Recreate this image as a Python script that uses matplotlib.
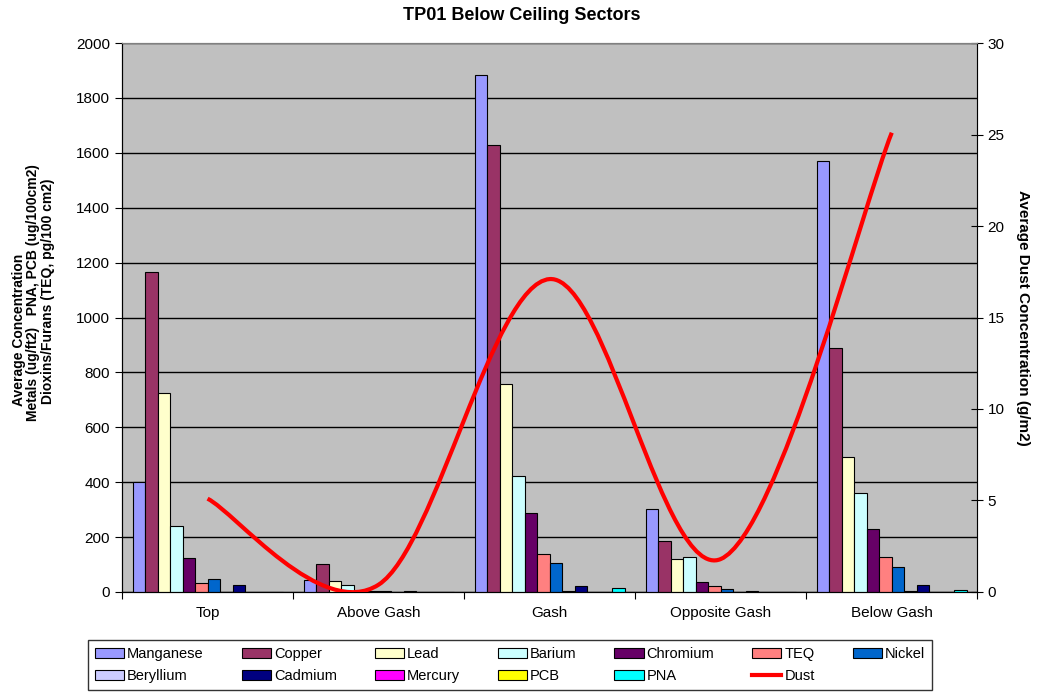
import matplotlib.pyplot as plt
import numpy as np
from matplotlib.path import Path
from matplotlib.patches import PathPatch
from matplotlib.lines import Line2D

plt.rcParams['font.family'] = ['Liberation Sans', 'DejaVu Sans']

# Data
sectors = ['Top', 'Above Gash', 'Gash', 'Opposite Gash', 'Below Gash']
manganese = [402, 45, 1885, 301, 1570]
copper = [1166, 101, 1630, 185, 890]
lead = [724, 40, 759, 121, 490]
barium = [242, 24, 424, 126, 359]
chromium = [124, 5, 287, 38, 228]
teq = [34, 2, 138, 23, 126]
nickel = [47, 2, 105, 12, 92]
beryllium = [0, 0, 3, 0, 4]
cadmium = [25, 2, 23, 5, 24]
mercury = [0, 0, 0, 0, 0]
pcb = [0, 0, 0, 0, 0]
pna = [0, 0, 16, 0, 7]
dust = [5.1, 0.4, 17.1, 1.8, 25.1]

series = [
    ('Manganese', manganese, '#9999FF'),
    ('Copper', copper, '#993366'),
    ('Lead', lead, '#FFFFCC'),
    ('Barium', barium, '#CCFFFF'),
    ('Chromium', chromium, '#660066'),
    ('TEQ', teq, '#FF8080'),
    ('Nickel', nickel, '#0066CC'),
    ('Beryllium', beryllium, '#CCCCFF'),
    ('Cadmium', cadmium, '#000080'),
    ('Mercury', mercury, '#FF00FF'),
    ('PCB', pcb, '#FFFF00'),
    ('PNA', pna, '#00FFFF'),
]

fig = plt.figure(figsize=(10.43, 6.94), dpi=100)
ax = fig.add_axes([0.117, 0.147, 0.820, 0.791])
ax.set_facecolor('#C0C0C0')

x = np.arange(len(sectors))
w = 0.0731
handles = {}
for k, (name, vals, col) in enumerate(series):
    off = (k - 5.5) * w
    b = ax.bar(x + off, vals, width=w, color=col, edgecolor='black',
               linewidth=0.8, zorder=3)
    handles[name] = b

ax.set_xlim(-0.5, 4.5)
ax.set_ylim(0, 2000)
ax.set_yticks(np.arange(0, 2001, 200))
ax.yaxis.grid(True, color='black', linewidth=1, zorder=1)
ax.set_axisbelow(True)
ax.set_xticks(np.arange(-0.5, 4.6, 1))
ax.set_xticklabels([])
ax.set_xticks(x, minor=True)
ax.set_xticklabels(sectors, minor=True, fontsize=11)
ax.tick_params(axis='x', which='major', direction='out', length=5, color='black')
ax.tick_params(axis='x', which='minor', length=0, pad=10)
ax.tick_params(axis='y', direction='out', length=5, labelsize=11)
for s in ['top', 'right']:
    ax.spines[s].set_color('#808080')
for s in ['left', 'bottom']:
    ax.spines[s].set_color('black')

# dust on secondary axis, smoothed like Excel
ax2 = ax.twinx()
ax2.set_ylim(0, 30)
ax2.set_yticks(np.arange(0, 31, 5))
ax2.tick_params(axis='y', direction='inout', length=8, labelsize=11)
ax2.spines['right'].set_color('black')
ax2.spines['top'].set_color('#808080')
ax2.set_zorder(ax.get_zorder() + 1)
ax2.patch.set_visible(False)

pts = np.column_stack([x, dust]).astype(float)
verts = [pts[0]]
codes = [Path.MOVETO]
n = len(pts)
for i in range(n - 1):
    p_prev = pts[i - 1] if i > 0 else pts[i]
    p_next = pts[i + 2] if i + 2 < n else pts[i + 1]
    c1 = pts[i] + (pts[i + 1] - p_prev) / 6
    c2 = pts[i + 1] - (p_next - pts[i]) / 6
    verts += [c1, c2, pts[i + 1]]
    codes += [Path.CURVE4] * 3
ax2.add_patch(PathPatch(Path(verts, codes), fill=False, edgecolor='#FF0000',
                        linewidth=3, zorder=5))

ax2.set_ylabel('Average Dust Concentration (g/m2)', rotation=270,
               fontsize=11, fontweight='bold', labelpad=18)

fig.text(0.5, 0.978, 'TP01 Below Ceiling Sectors', ha='center', va='center',
         fontsize=13, fontweight='bold')
fig.text(0.018, 0.525, 'Average Concentration', rotation=90, ha='center',
         va='center', fontsize=10, fontweight='bold')
fig.text(0.032, 0.578, 'Metals (ug/ft2)   PNA, PCB (ug/100cm2)', rotation=90,
         ha='center', va='center', fontsize=10, fontweight='bold')
fig.text(0.046, 0.58, 'Dioxins/Furans (TEQ, pg/100 cm2)', rotation=90,
         ha='center', va='center', fontsize=10, fontweight='bold')

handles['Dust'] = Line2D([], [], color='#FF0000', linewidth=3)
order = ['Manganese', 'Beryllium', 'Copper', 'Cadmium', 'Lead', 'Mercury',
         'Barium', 'PCB', 'Chromium', 'PNA', 'TEQ', 'Dust', 'Nickel']
leg = fig.legend([handles[o] for o in order], order, ncol=7,
                 loc='center', bbox_to_anchor=(0.489, 0.042),
                 fontsize=10.5, frameon=True, fancybox=False,
                 edgecolor='black', handlelength=2.0, handleheight=0.7,
                 handletextpad=0.2, columnspacing=2.6, borderpad=0.5,
                 labelspacing=0.55)
leg.get_frame().set_linewidth(1)

fig.savefig('out.png', dpi=100)
